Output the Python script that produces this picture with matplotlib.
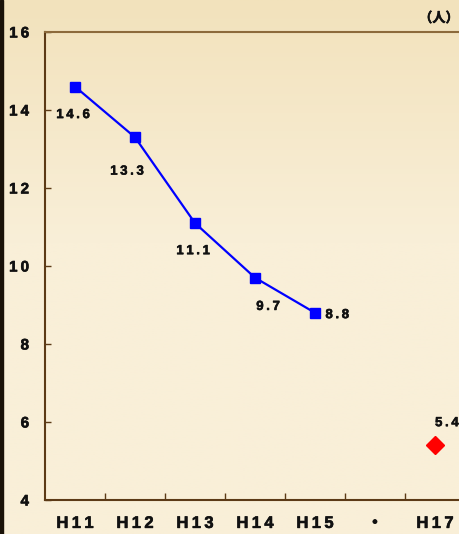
import numpy as np
import matplotlib
matplotlib.use("Agg")
import matplotlib.pyplot as plt
import matplotlib.patheffects as pe

# ---- data -------------------------------------------------------------------
CATS = ["H11", "H12", "H13", "H14", "H15", "・", "H17"]
LINE_VALS = [14.6, 13.3, 11.1, 9.7, 8.8]
H17_VAL = 5.4
YTICKS = [4, 6, 8, 10, 12, 14, 16]

BROWN = "#5C3A16"
INK = "#111111"
FAM = ["Liberation Sans", "Noto Sans CJK JP"]
TS = "\u2009"  # espacement des lettres
HEAVY = [pe.withStroke(linewidth=0.4, foreground=INK)]


def spaced(s):
    return TS.join(s)


W, H = 459, 534
fig = plt.figure(figsize=(W / 100, H / 100), dpi=100)

# fond degrade
bg = fig.add_axes([0, 0, 1, 1])
grad = np.linspace(0, 1, 256).reshape(-1, 1)
top = np.array([0xF2, 0xE2, 0xBC]) / 255
bot = np.array([0xF9, 0xEF, 0xD8]) / 255
img = top + (bot - top) * np.clip(grad * 2.2, 0, 1)[..., None]
bg.imshow(img.reshape(256, 1, 3), aspect="auto", extent=[0, 1, 0, 1])
bg.axvspan(0, 3 / W, color="#1A1208")
bg.set_xlim(0, 1); bg.set_ylim(0, 1); bg.axis("off")

# axes: x 45 -> 465 px, y 32 -> 500 px
ax = fig.add_axes([45 / W, 1 - 500 / H, 420 / W, 468 / H])
ax.patch.set_alpha(0)
ax.set_xlim(-0.5, 6.5)
ax.set_ylim(4, 16)

x = np.arange(len(LINE_VALS))
ax.plot(x, LINE_VALS, color="#0000FF", lw=1.6, marker="s", ms=7,
        mec="#0000FF", mfc="#0000FF", zorder=3)
ax.plot([6], [H17_VAL], marker="D", ms=9, color="#FF0000", ls="none", zorder=3)

lab_kw = dict(fontsize=9.5, fontweight="bold", color=INK, family=FAM,
              ha="center", va="center", path_effects=HEAVY)
offsets = [(-0.03, -0.73), (-0.13, -0.88), (-0.03, -0.72), (0.22, -0.75),
           (0.37, -0.06)]
for xi, v, (dx, dy) in zip(x, LINE_VALS, offsets):
    ax.text(xi + dx, v + dy, spaced(f"{v:.1f}"), **lab_kw)
ax.text(6.2, H17_VAL + 0.57, spaced(f"{H17_VAL:.1f}"), **lab_kw)

# spines / ticks
ax.spines["right"].set_visible(False)
ax.spines["left"].set_color(BROWN)
ax.spines["bottom"].set_color(BROWN)
ax.spines["top"].set_color("#8C6A3C")
for s in ["left", "bottom", "top"]:
    ax.spines[s].set_linewidth(1.5)

ax.set_yticks(YTICKS)
ax.set_yticklabels([spaced(str(t)) for t in YTICKS], fontsize=11,
                   fontweight="bold", family=FAM, color=INK)
for t in ax.get_yticklabels():
    t.set_path_effects(HEAVY)
ax.tick_params(axis="y", direction="in", length=4, color=BROWN, width=1,
               pad=11.5)
ax.set_xticks(np.arange(0.5, 6, 1.0))
ax.set_xticklabels([])
ax.tick_params(axis="x", direction="in", length=5, color=BROWN, width=1)
for i, c in enumerate(CATS):
    ax.text(i, 3.40, spaced(c) if c != "・" else c, fontsize=12,
            fontweight="bold", family=FAM, color=INK,
            ha="center", va="center", path_effects=HEAVY)

fig.text(439 / W, 1 - 18 / H, "（人）", fontsize=9.5, fontweight="bold",
         family=["Noto Sans CJK JP", "DejaVu Sans"], color=INK,
         ha="center", va="center", path_effects=HEAVY)

fig.savefig("out.png", dpi=100)
